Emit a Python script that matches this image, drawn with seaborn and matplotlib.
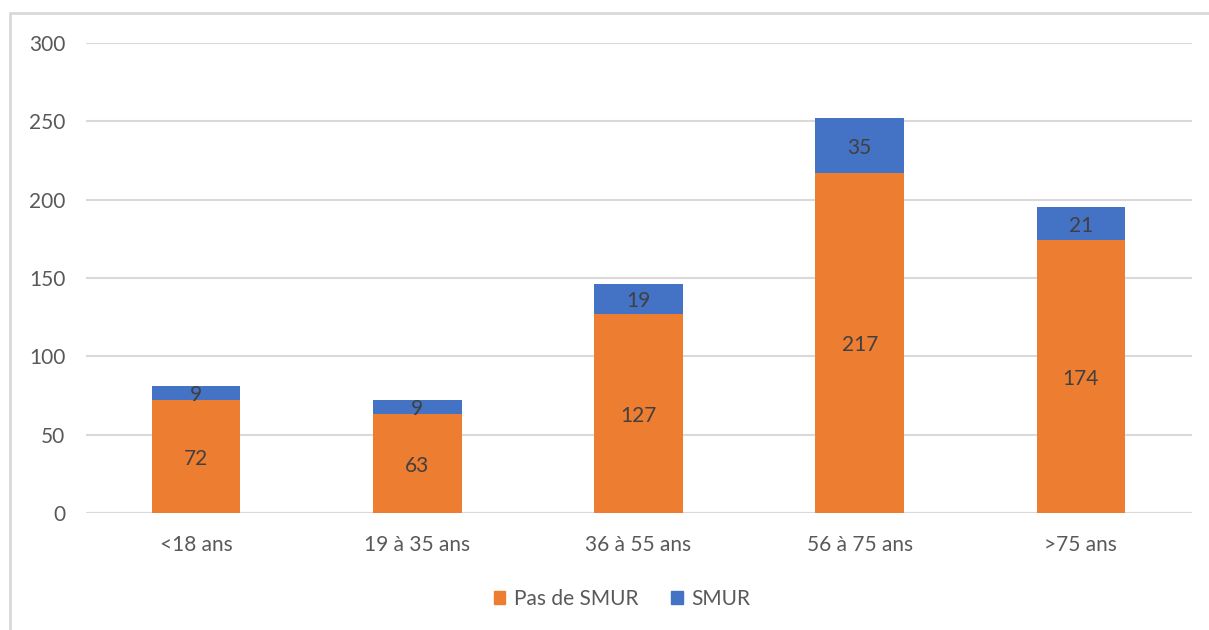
import matplotlib
matplotlib.use("Agg")
import matplotlib.pyplot as plt
import seaborn as sns
import pandas as pd
from matplotlib.patches import Patch
from matplotlib.lines import Line2D

categories = ["<18 ans", "19 à 35 ans", "36 à 55 ans", "56 à 75 ans", ">75 ans"]
pas_de_smur = [72, 63, 127, 217, 174]
smur = [9, 9, 19, 35, 21]
y_ticks = [0, 50, 100, 150, 200, 250, 300]

ORANGE = "#ED7D31"
BLUE = "#4472C4"
TXT = "#595959"
GRID = "#D9D9D9"

sns.set_theme(style="white")
plt.rcParams["font.family"] = ["Lato", "DejaVu Sans"]

df = pd.DataFrame({"cat": categories, "pas": pas_de_smur, "smur": smur})
df["total"] = df["pas"] + df["smur"]

fig = plt.figure(figsize=(12.09, 6.30), dpi=100)
ax = fig.add_axes([85.5/1209, 117/630, (1191.5-85.5)/1209, (513-43)/630])

sns.barplot(data=df, x="cat", y="total", color=BLUE, saturation=1, width=0.4,
            linewidth=0, ax=ax, zorder=2)
sns.barplot(data=df, x="cat", y="pas", color=ORANGE, saturation=1, width=0.4,
            linewidth=0, ax=ax, zorder=3)

FS = 15
for i, (p, s) in enumerate(zip(pas_de_smur, smur)):
    ax.text(i, p / 2, str(p), ha="center", va="center_baseline", fontsize=FS, color="#404040", zorder=5)
    ax.text(i, p + s / 2, str(s), ha="center", va="center_baseline", fontsize=FS, color="#404040", zorder=5)

ax.set_xlim(-0.5, 4.5)
ax.set_ylim(0, 300)
ax.set_yticks(y_ticks)
ax.yaxis.grid(True, color=GRID, linewidth=1.5, zorder=0)
ax.set_axisbelow(True)
for sp in ax.spines.values():
    sp.set_visible(False)
ax.axhline(0, color=GRID, linewidth=1.5, zorder=1)
ax.set_xlabel("")
ax.set_ylabel("")
ax.tick_params(axis="x", length=0, pad=16, labelsize=FS, labelcolor=TXT)
ax.tick_params(axis="y", length=0, pad=14.5, labelsize=FS, labelcolor=TXT)

handles = [Patch(facecolor=ORANGE, edgecolor=ORANGE), Patch(facecolor=BLUE, edgecolor=BLUE)]
fig.legend(handles, ["Pas de SMUR", "SMUR"], loc="center", bbox_to_anchor=(622/1209, 1 - 599/630),
           ncol=2, frameon=False, fontsize=FS, labelcolor=TXT, handlelength=0.55, handleheight=0.55,
           handletextpad=0.4, columnspacing=1.6)

# chart border (top and left visible)
fig.add_artist(Line2D([10/1209, 10/1209], [0, 1 - 13/630], transform=fig.transFigure, color=GRID, linewidth=2))
fig.add_artist(Line2D([10/1209, 1], [1 - 13/630, 1 - 13/630], transform=fig.transFigure, color=GRID, linewidth=2))

fig.savefig("out.png", dpi=100, facecolor="white")
